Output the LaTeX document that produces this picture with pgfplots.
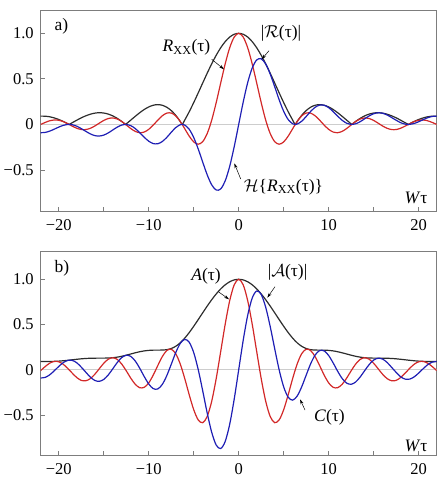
\documentclass[border=0pt]{standalone}
\usepackage{pgfplots}
\pgfplotsset{compat=1.18}
\usepackage{pgfplotstable}
\usepackage{fontspec}
\setmainfont{Liberation Serif}
\usetikzlibrary{arrows.meta}

\definecolor{crvred}{RGB}{210,40,40}
\definecolor{crvblue}{RGB}{30,30,180}
\definecolor{crvblack}{RGB}{45,45,45}
\definecolor{framegray}{RGB}{125,125,125}
\definecolor{zeroline}{RGB}{205,205,205}

% panel a: R_XX, its Hilbert transform H, envelope E (x = W tau)
\pgfplotstableread{
x R H E
-22 -0.0004 -0.0909 0.0909
-21.5 0.0218 -0.0876 0.0903
-21 0.0398 -0.0737 0.0838
-20.5 0.0486 -0.0524 0.0715
-20 0.0456 -0.0296 0.0544
-19.5 0.0311 -0.0105 0.0328
-19 0.0079 -0.0006 0.0079
-18.8496 0 0 0
-18.5 -0.0183 -0.0032 0.0186
-18 -0.0417 -0.0189 0.0458
-17.5 -0.0560 -0.0455 0.0721
-17 -0.0566 -0.0750 0.0939
-16.5 -0.0431 -0.1032 0.1118
-16 -0.0180 -0.1224 0.1237
-15.5 0.0133 -0.1276 0.1283
-15 0.0434 -0.1173 0.1251
-14.5 0.0645 -0.0934 0.1135
-14 0.0708 -0.0617 0.0939
-13.5 0.0595 -0.0300 0.0667
-13 0.0323 -0.0071 0.0331
-12.5664 0 0 0
-12.5 -0.0053 -0.0002 0.0053
-12 -0.0447 -0.0130 0.0466
-11.5 -0.0761 -0.0449 0.0884
-11 -0.0909 -0.0905 0.1283
-10.5 -0.0838 -0.1405 0.1636
-10 -0.0544 -0.1839 0.1918
-9.5 -0.0079 -0.2102 0.2104
-9 0.0458 -0.2123 0.2172
-8.5 0.0939 -0.1885 0.2106
-8 0.1237 -0.1432 0.1892
-7.5 0.1251 -0.0871 0.1524
-7 0.0939 -0.0352 0.1002
-6.5 0.0331 -0.0036 0.0333
-6.2832 0 0 0
-6 -0.0466 -0.0066 0.0470
-5.5 -0.1283 -0.0530 0.1388
-5 -0.1918 -0.1433 0.2394
-4.5 -0.2172 -0.2691 0.3458
-4 -0.1892 -0.4134 0.4546
-3.5 -0.1002 -0.5533 0.5623
-3 0.0470 -0.6633 0.6650
-2.5 0.2394 -0.7204 0.7592
-2 0.4546 -0.7081 0.8415
-1.5 0.6650 -0.6195 0.9089
-1 0.8415 -0.4597 0.9589
-0.5 0.9589 -0.2448 0.9896
0 1 0 1
0.5 0.9589 0.2448 0.9896
1 0.8415 0.4597 0.9589
1.5 0.6650 0.6195 0.9089
2 0.4546 0.7081 0.8415
2.5 0.2394 0.7204 0.7592
3 0.0470 0.6633 0.6650
3.5 -0.1002 0.5533 0.5623
4 -0.1892 0.4134 0.4546
4.5 -0.2172 0.2691 0.3458
5 -0.1918 0.1433 0.2394
5.5 -0.1283 0.0530 0.1388
6 -0.0466 0.0066 0.0470
6.2832 0 0 0
6.5 0.0331 0.0036 0.0333
7 0.0939 0.0352 0.1002
7.5 0.1251 0.0871 0.1524
8 0.1237 0.1432 0.1892
8.5 0.0939 0.1885 0.2106
9 0.0458 0.2123 0.2172
9.5 -0.0079 0.2102 0.2104
10 -0.0544 0.1839 0.1918
10.5 -0.0838 0.1405 0.1636
11 -0.0909 0.0905 0.1283
11.5 -0.0761 0.0449 0.0884
12 -0.0447 0.0130 0.0466
12.5 -0.0053 0.0002 0.0053
12.5664 0 0 0
13 0.0323 0.0071 0.0331
13.5 0.0595 0.0300 0.0667
14 0.0708 0.0617 0.0939
14.5 0.0645 0.0934 0.1135
15 0.0434 0.1173 0.1251
15.5 0.0133 0.1276 0.1283
16 -0.0180 0.1224 0.1237
16.5 -0.0431 0.1032 0.1118
17 -0.0566 0.0750 0.0939
17.5 -0.0560 0.0455 0.0721
18 -0.0417 0.0189 0.0458
18.5 -0.0183 0.0032 0.0186
18.8496 0 0 0
19 0.0079 0.0006 0.0079
19.5 0.0311 0.0105 0.0328
20 0.0456 0.0296 0.0544
20.5 0.0486 0.0524 0.0715
21 0.0398 0.0737 0.0838
21.5 0.0218 0.0876 0.0903
22 -0.0004 0.0909 0.0909
}\panela

% panel b: A, its quadrature C, envelope E
\pgfplotstableread{
x A C E
-22 -0.0091 -0.0909 0.0913
-21.5 0.0354 -0.0842 0.0913
-21 0.0726 -0.0560 0.0917
-20.5 0.0921 -0.0121 0.0929
-20 0.0883 0.0362 0.0954
-19.5 0.0611 0.0784 0.0994
-19 0.0157 0.1032 0.1044
-18.5 -0.0369 0.1037 0.1101
-18 -0.0855 0.0780 0.1157
-17.5 -0.1172 0.0296 0.1209
-17 -0.1220 -0.0257 0.1247
-16.5 -0.0987 -0.0799 0.1270
-16 -0.0513 -0.1175 0.1282
-15.5 0.0101 -0.1280 0.1284
-15 0.0712 -0.1071 0.1286
-14.5 0.1161 -0.0579 0.1297
-14 0.1328 0.0094 0.1331
-13.5 0.1146 0.0793 0.1394
-13 0.0635 0.1346 0.1488
-12.5 -0.0106 0.1605 0.1608
-12 -0.0916 0.1481 0.1741
-11.5 -0.1600 0.0973 0.1873
-11 -0.1983 0.0173 0.1991
-10.5 -0.1944 -0.0746 0.2083
-10 -0.1456 -0.1569 0.2140
-9.5 -0.0600 -0.2083 0.2168
-9 0.0444 -0.2126 0.2172
-8.5 0.1434 -0.1637 0.2176
-8 0.2116 -0.0673 0.2220
-7.5 0.2270 0.0591 0.2346
-7 0.1778 0.1886 0.2592
-6.5 0.0651 0.2903 0.2975
-6 -0.0954 0.3356 0.3489
-5.5 -0.2758 0.3044 0.4108
-5 -0.4410 0.1902 0.4803
-4.5 -0.5540 0.0030 0.5540
-4 -0.5852 -0.2322 0.6296
-3.5 -0.5166 -0.4780 0.7038
-3 -0.3482 -0.6914 0.7741
-2.5 -0.0976 -0.8324 0.8381
-2 0.2012 -0.8708 0.8937
-1.5 0.5040 -0.7924 0.9391
-1 0.7636 -0.6024 0.9726
-0.5 0.9385 -0.3251 0.9931
0 1 0 1
0.5 0.9385 0.3251 0.9931
1 0.7636 0.6024 0.9726
1.5 0.5040 0.7924 0.9391
2 0.2012 0.8708 0.8937
2.5 -0.0976 0.8324 0.8381
3 -0.3482 0.6914 0.7741
3.5 -0.5166 0.4780 0.7038
4 -0.5852 0.2322 0.6296
4.5 -0.5540 -0.0030 0.5540
5 -0.4410 -0.1902 0.4803
5.5 -0.2758 -0.3044 0.4108
6 -0.0954 -0.3356 0.3489
6.5 0.0651 -0.2903 0.2975
7 0.1778 -0.1886 0.2592
7.5 0.2270 -0.0591 0.2346
8 0.2116 0.0673 0.2220
8.5 0.1434 0.1637 0.2176
9 0.0444 0.2126 0.2172
9.5 -0.0600 0.2083 0.2168
10 -0.1456 0.1569 0.2140
10.5 -0.1944 0.0746 0.2083
11 -0.1983 -0.0173 0.1991
11.5 -0.1600 -0.0973 0.1873
12 -0.0916 -0.1481 0.1741
12.5 -0.0106 -0.1605 0.1608
13 0.0635 -0.1346 0.1488
13.5 0.1146 -0.0793 0.1394
14 0.1328 -0.0094 0.1331
14.5 0.1161 0.0579 0.1297
15 0.0712 0.1071 0.1286
15.5 0.0101 0.1280 0.1284
16 -0.0513 0.1175 0.1282
16.5 -0.0987 0.0799 0.1270
17 -0.1220 0.0257 0.1247
17.5 -0.1172 -0.0296 0.1209
18 -0.0855 -0.0780 0.1157
18.5 -0.0369 -0.1037 0.1101
19 0.0157 -0.1032 0.1044
19.5 0.0611 -0.0784 0.0994
20 0.0883 -0.0362 0.0954
20.5 0.0921 0.0121 0.0929
21 0.0726 0.0560 0.0917
21.5 0.0354 0.0842 0.0913
22 -0.0091 0.0909 0.0913
}\panelb

\pgfplotsset{
  panel/.style={
    scale only axis, width=396pt, anchor=south west,
    xmin=-22, xmax=22,
    axis line style={framegray, line width=0.8pt},
    tick style={framegray, line width=0.8pt},
    xtick={-20,-10,0,10,20},
    xticklabels={\mbox{−20},\mbox{−10},\mbox{0},\mbox{10},\mbox{20}},
    minor xtick={-15,-5,5,15},
    ytick={-0.5,0,0.5,1},
    yticklabels={\mbox{−0.5},\mbox{0},\mbox{0.5},\mbox{1.0}},
    tick align=inside, xtick pos=bottom, ytick pos=left,
    major tick length=4.5pt, minor tick length=4.5pt,
    ticklabel style={font=\fontsize{16.5}{19}\selectfont, text=black},
    xticklabel style={yshift=-4.5pt},
    yticklabel style={xshift=-3.5pt},
    every axis plot/.append style={line width=1.2pt, smooth},
  }
}
\newcommand{\lab}{\fontsize{17.5}{20}\selectfont}

\begin{document}
\begin{tikzpicture}[x=1pt,y=1pt]
\path[use as bounding box] (0,0) rectangle (447,478);

\begin{axis}[panel, at={(40.7pt,266.3pt)}, height=201.7pt, ymin=-0.958, ymax=1.256]
\addplot[zeroline, line width=1.8pt, sharp plot] coordinates {(-22,0) (22,0)};
\addplot[crvblack] table[x=x, y=E] {\panela};
\addplot[crvred] table[x=x, y=R] {\panela};
\addplot[crvblue] table[x=x, y=H] {\panela};
\end{axis}

\begin{axis}[panel, at={(40.7pt,22.3pt)}, height=204pt, ymin=-0.95, ymax=1.305]
\addplot[zeroline, line width=1pt, sharp plot] coordinates {(-22,0) (22,0)};
\addplot[crvblack] table[x=x, y=E] {\panelb};
\addplot[crvred] table[x=x, y=A] {\panelb};
\addplot[crvblue] table[x=x, y=C] {\panelb};
\end{axis}

% annotations, panel a
\node[font=\lab, anchor=west] at (51,452) {a)};
\node[font=\lab] at (186.5,430.5) {\textit{R}\textsubscript{XX}(τ)};
\node[font=\lab] at (281,444.5) {|$\mathcal{R}$(τ)|};
\node[font=\lab] at (283.5,291) {$\mathcal{H}$\{\textit{R}\textsubscript{XX}(τ)\}};
\node[font=\lab] at (416,280.5) {\textit{W}τ};
\draw[-{Stealth[length=5pt,width=3pt]}, line width=0.5pt] (211.7,418.7) -- (224,408.7);
\draw[-{Stealth[length=5pt,width=3pt]}, line width=0.5pt] (269,427.3) -- (261.7,418.7);
\draw[-{Stealth[length=5pt,width=3pt]}, line width=0.5pt] (240.7,299) -- (234.3,314.7);

% annotations, panel b
\node[font=\lab, anchor=west] at (51,209.5) {b)};
\node[font=\lab] at (206,201.5) {\textit{A}(τ)};
\node[font=\lab] at (287.5,205.5) {|$\mathcal{A}$(τ)|};
\node[font=\lab] at (329.5,60.5) {\textit{C}(τ)};
\node[font=\lab] at (416,32) {\textit{W}τ};
\draw[-{Stealth[length=5pt,width=3pt]}, line width=0.5pt] (218.3,186.3) -- (229,178.7);
\draw[-{Stealth[length=5pt,width=3pt]}, line width=0.5pt] (275,191.3) -- (267.3,180.3);
\draw[-{Stealth[length=5pt,width=3pt]}, line width=0.5pt] (305,68) -- (300,78.7);
\end{tikzpicture}
\end{document}
